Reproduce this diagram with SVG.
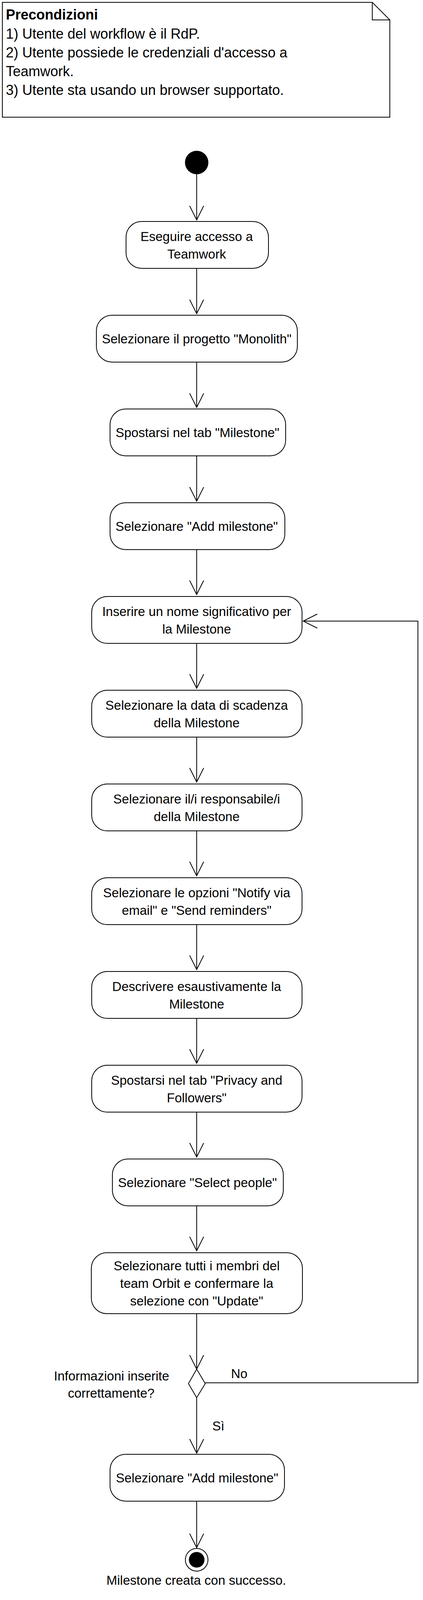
<svg xmlns="http://www.w3.org/2000/svg" width="1084" height="4108" viewBox="0 0 1084 4108">
<style>
.bg{fill:#ffffff}
.act{fill:#ffffff;stroke:#000000;stroke-width:2}
.ln{fill:none;stroke:#000000;stroke-width:2}
.t{font-family:"Liberation Sans",Arial,sans-serif;font-size:33px;fill:#000000;text-anchor:middle}
.lbl{font-family:"Liberation Sans",Arial,sans-serif;font-size:33px;fill:#000000}
.nt{font-family:"Liberation Sans",Arial,sans-serif;font-size:36px;fill:#000000}
.ntb{font-family:"Liberation Sans",Arial,sans-serif;font-size:36px;font-weight:bold;fill:#000000}
</style>
<defs>
<path id="ah" d="M -18 -36 L 0 0 L 18 -36" fill="none" stroke="#000000" stroke-width="2"/>
</defs>
<rect class="bg" x="0" y="0" width="1084" height="4108"/>

<g id="note">
<path class="act" d="M 6 6 L 954 6 L 999 51 L 999 300 L 6 300 Z"/>
<path class="ln" d="M 954 6 L 954 51 L 999 51"/>
<text class="ntb" x="15" y="50">Precondizioni</text>
<text class="nt" x="15" y="99">1) Utente del workflow è il RdP.</text>
<text class="nt" x="15" y="147">2) Utente possiede le credenziali d'accesso a</text>
<text class="nt" x="15" y="195">Teamwork.</text>
<text class="nt" x="15" y="243">3) Utente sta usando un browser supportato.</text>
</g>

<g id="connectors">
<line class="ln" x1="504" y1="446" x2="504" y2="563"/><use href="#ah" x="504" y="563"/>
<line class="ln" x1="504" y1="687" x2="504" y2="803"/><use href="#ah" x="504" y="803"/>
<line class="ln" x1="504" y1="927" x2="504" y2="1043"/><use href="#ah" x="504" y="1043"/>
<line class="ln" x1="504" y1="1167" x2="504" y2="1283"/><use href="#ah" x="504" y="1283"/>
<line class="ln" x1="504" y1="1407" x2="504" y2="1522"/><use href="#ah" x="504" y="1522"/>
<line class="ln" x1="504" y1="1647" x2="504" y2="1762"/><use href="#ah" x="504" y="1762"/>
<line class="ln" x1="504" y1="1887" x2="504" y2="2002"/><use href="#ah" x="504" y="2002"/>
<line class="ln" x1="504" y1="2127" x2="504" y2="2242"/><use href="#ah" x="504" y="2242"/>
<line class="ln" x1="504" y1="2367" x2="504" y2="2482"/><use href="#ah" x="504" y="2482"/>
<line class="ln" x1="504" y1="2607" x2="504" y2="2722"/><use href="#ah" x="504" y="2722"/>
<line class="ln" x1="504" y1="2847" x2="504" y2="2962"/><use href="#ah" x="504" y="2962"/>
<line class="ln" x1="504" y1="3087" x2="504" y2="3202"/><use href="#ah" x="504" y="3202"/>
<line class="ln" x1="504" y1="3363" x2="504" y2="3505"/><use href="#ah" x="504" y="3505"/>
<line class="ln" x1="504" y1="3578" x2="504" y2="3720"/><use href="#ah" x="504" y="3720"/>
<line class="ln" x1="504" y1="3843" x2="504" y2="3962"/><use href="#ah" x="504" y="3962"/>
<path class="ln" d="M 526 3540 L 1071 3540 L 1071 1590 L 777 1590"/>
<path class="ln" d="M 813 1572 L 777 1590 L 813 1608"/>
<text class="lbl" x="592" y="3528">No</text>
<text class="lbl" x="544" y="3662">Sì</text>
</g>

<g id="start">
<circle cx="504" cy="416" r="30" fill="#000000"/>
</g>

<g id="n1">
<rect class="act" x="323" y="567" width="365" height="120" rx="40" ry="40"/>
<text class="t" x="504" y="617">Eseguire accesso a</text>
<text class="t" x="504" y="662">Teamwork</text>
</g>
<g id="n2">
<rect class="act" x="247" y="807" width="515" height="120" rx="40" ry="40"/>
<text class="t" x="504" y="879">Selezionare il progetto "Monolith"</text>
</g>
<g id="n3">
<rect class="act" x="282" y="1047" width="450" height="120" rx="40" ry="40"/>
<text class="t" x="506" y="1119">Spostarsi nel tab "Milestone"</text>
</g>
<g id="n4">
<rect class="act" x="282" y="1287" width="448" height="120" rx="40" ry="40"/>
<text class="t" x="504" y="1359">Selezionare "Add milestone"</text>
</g>
<g id="n5">
<rect class="act" x="235" y="1527" width="539" height="120" rx="40" ry="40"/>
<text class="t" x="504" y="1577">Inserire un nome significativo per</text>
<text class="t" x="504" y="1622">la Milestone</text>
</g>
<g id="n6">
<rect class="act" x="235" y="1767" width="539" height="120" rx="40" ry="40"/>
<text class="t" x="504" y="1817">Selezionare la data di scadenza</text>
<text class="t" x="504" y="1862">della Milestone</text>
</g>
<g id="n7">
<rect class="act" x="235" y="2007" width="539" height="120" rx="40" ry="40"/>
<text class="t" x="504" y="2057">Selezionare il/i responsabile/i</text>
<text class="t" x="504" y="2102">della Milestone</text>
</g>
<g id="n8">
<rect class="act" x="235" y="2247" width="539" height="120" rx="40" ry="40"/>
<text class="t" x="504" y="2297">Selezionare le opzioni "Notify via</text>
<text class="t" x="504" y="2342">email" e "Send reminders"</text>
</g>
<g id="n9">
<rect class="act" x="235" y="2487" width="539" height="120" rx="40" ry="40"/>
<text class="t" x="504" y="2537">Descrivere esaustivamente la</text>
<text class="t" x="504" y="2582">Milestone</text>
</g>
<g id="n10">
<rect class="act" x="235" y="2727" width="539" height="120" rx="40" ry="40"/>
<text class="t" x="504" y="2777">Spostarsi nel tab "Privacy and</text>
<text class="t" x="504" y="2822">Followers"</text>
</g>
<g id="n11">
<rect class="act" x="288" y="2967" width="438" height="120" rx="40" ry="40"/>
<text class="t" x="506" y="3039">Selezionare "Select people"</text>
</g>
<g id="n12">
<rect class="act" x="234" y="3207" width="541" height="156" rx="40" ry="40"/>
<text class="t" x="504" y="3252">Selezionare tutti i membri del</text>
<text class="t" x="504" y="3297">team Orbit e confermare la</text>
<text class="t" x="504" y="3342">selezione con "Update"</text>
</g>
<g id="decision">
<path class="act" d="M 504 3505 L 526 3542 L 504 3578 L 483 3542 Z"/>
<text class="t" x="286" y="3534">Informazioni inserite</text>
<text class="t" x="285" y="3578">correttamente?</text>
</g>
<g id="n13">
<rect class="act" x="282" y="3723" width="447" height="120" rx="40" ry="40"/>
<text class="t" x="505" y="3795">Selezionare "Add milestone"</text>
</g>
<g id="end">
<circle class="act" cx="504" cy="3993" r="29"/>
<circle cx="504" cy="3993" r="20" fill="#000000"/>
<text class="t" x="503" y="4057">Milestone creata con successo.</text>
</g>
</svg>
